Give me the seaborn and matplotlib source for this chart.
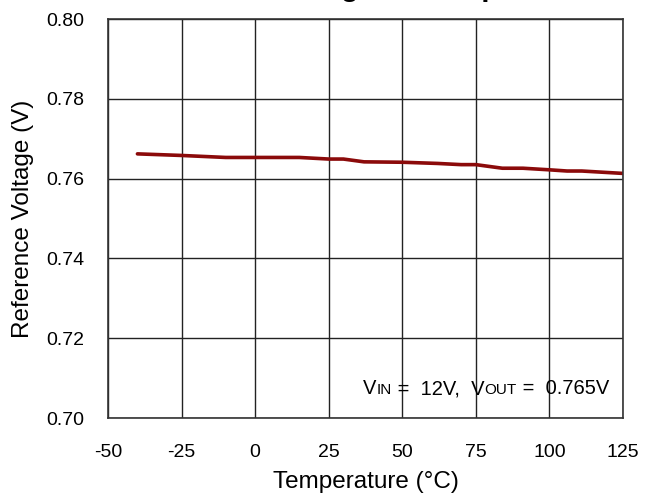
import matplotlib
matplotlib.use("Agg")
import matplotlib.pyplot as plt
import seaborn as sns
import pandas as pd
from matplotlib.offsetbox import TextArea, HPacker, AnchoredOffsetbox

temperature = [-40, -25, -10, 0, 15, 25, 30, 37, 50, 62, 70, 75, 79, 84, 91, 100, 106, 111, 125]
ref_voltage = [0.7662, 0.7658, 0.7653, 0.7653, 0.7653, 0.7649, 0.7649, 0.7642, 0.7641, 0.7638,
               0.7635, 0.7635, 0.7631, 0.7626, 0.7626, 0.7622, 0.7619, 0.7619, 0.7613]
x_ticks = [-50, -25, 0, 25, 50, 75, 100, 125]
y_ticks = [0.70, 0.72, 0.74, 0.76, 0.78, 0.80]

sns.set_style("white")
plt.rcParams['font.family'] = ['Liberation Sans', 'DejaVu Sans']
plt.rcParams['text.color'] = 'black'
plt.rcParams['axes.labelcolor'] = 'black'

fig = plt.figure(figsize=(6.57, 4.98), dpi=100)
ax = fig.add_axes([108/657, 80/498, 515/657, 399/498])

df = pd.DataFrame({"Temperature": temperature, "Vref": ref_voltage})
sns.lineplot(data=df, x="Temperature", y="Vref", ax=ax, color="#8B0A0A", linewidth=2.6)

ax.set_xlim(-50, 125)
ax.set_ylim(0.70, 0.80)
ax.set_xticks(x_ticks)
ax.set_yticks(y_ticks)
ax.set_xticklabels([str(t) for t in x_ticks])
ax.set_yticklabels([f"{v:.2f}" for v in y_ticks])
ax.grid(True, color="#222222", linewidth=1.0)
for s in ax.spines.values():
    s.set_color("#333333")
    s.set_linewidth(1.2)
ax.tick_params(axis="both", length=0, labelsize=14, colors="black")
ax.tick_params(axis="y", pad=17)
ax.tick_params(axis="x", pad=19)
ax.set_xlabel("Temperature (°C)", fontsize=17.5, labelpad=7, color="black")
ax.set_ylabel("Reference Voltage (V)", fontsize=17.5, labelpad=9, color="black")

# annotation with small-caps style subscripts on baseline
big = dict(fontsize=14.5, color="black")
small = dict(fontsize=11, color="black")
parts = [("V", big), ("IN", small), (" =  12V,  V", big), ("OUT", small), (" =  0.765V", big)]
areas = [TextArea(t, textprops=p) for t, p in parts]
pack = HPacker(children=areas, align="baseline", pad=0, sep=0)
box = AnchoredOffsetbox(loc="lower right", child=pack, pad=0, borderpad=0, frameon=False,
                        bbox_to_anchor=(609/657, (498-398)/498), bbox_transform=fig.transFigure)
ax.add_artist(box)

fig.text(360/657, 1 + 4.5/498, "Reference Voltage vs Temperature", ha="center", va="baseline",
         fontsize=21, fontweight="bold", color="black")

fig.savefig("out.png", dpi=100)
